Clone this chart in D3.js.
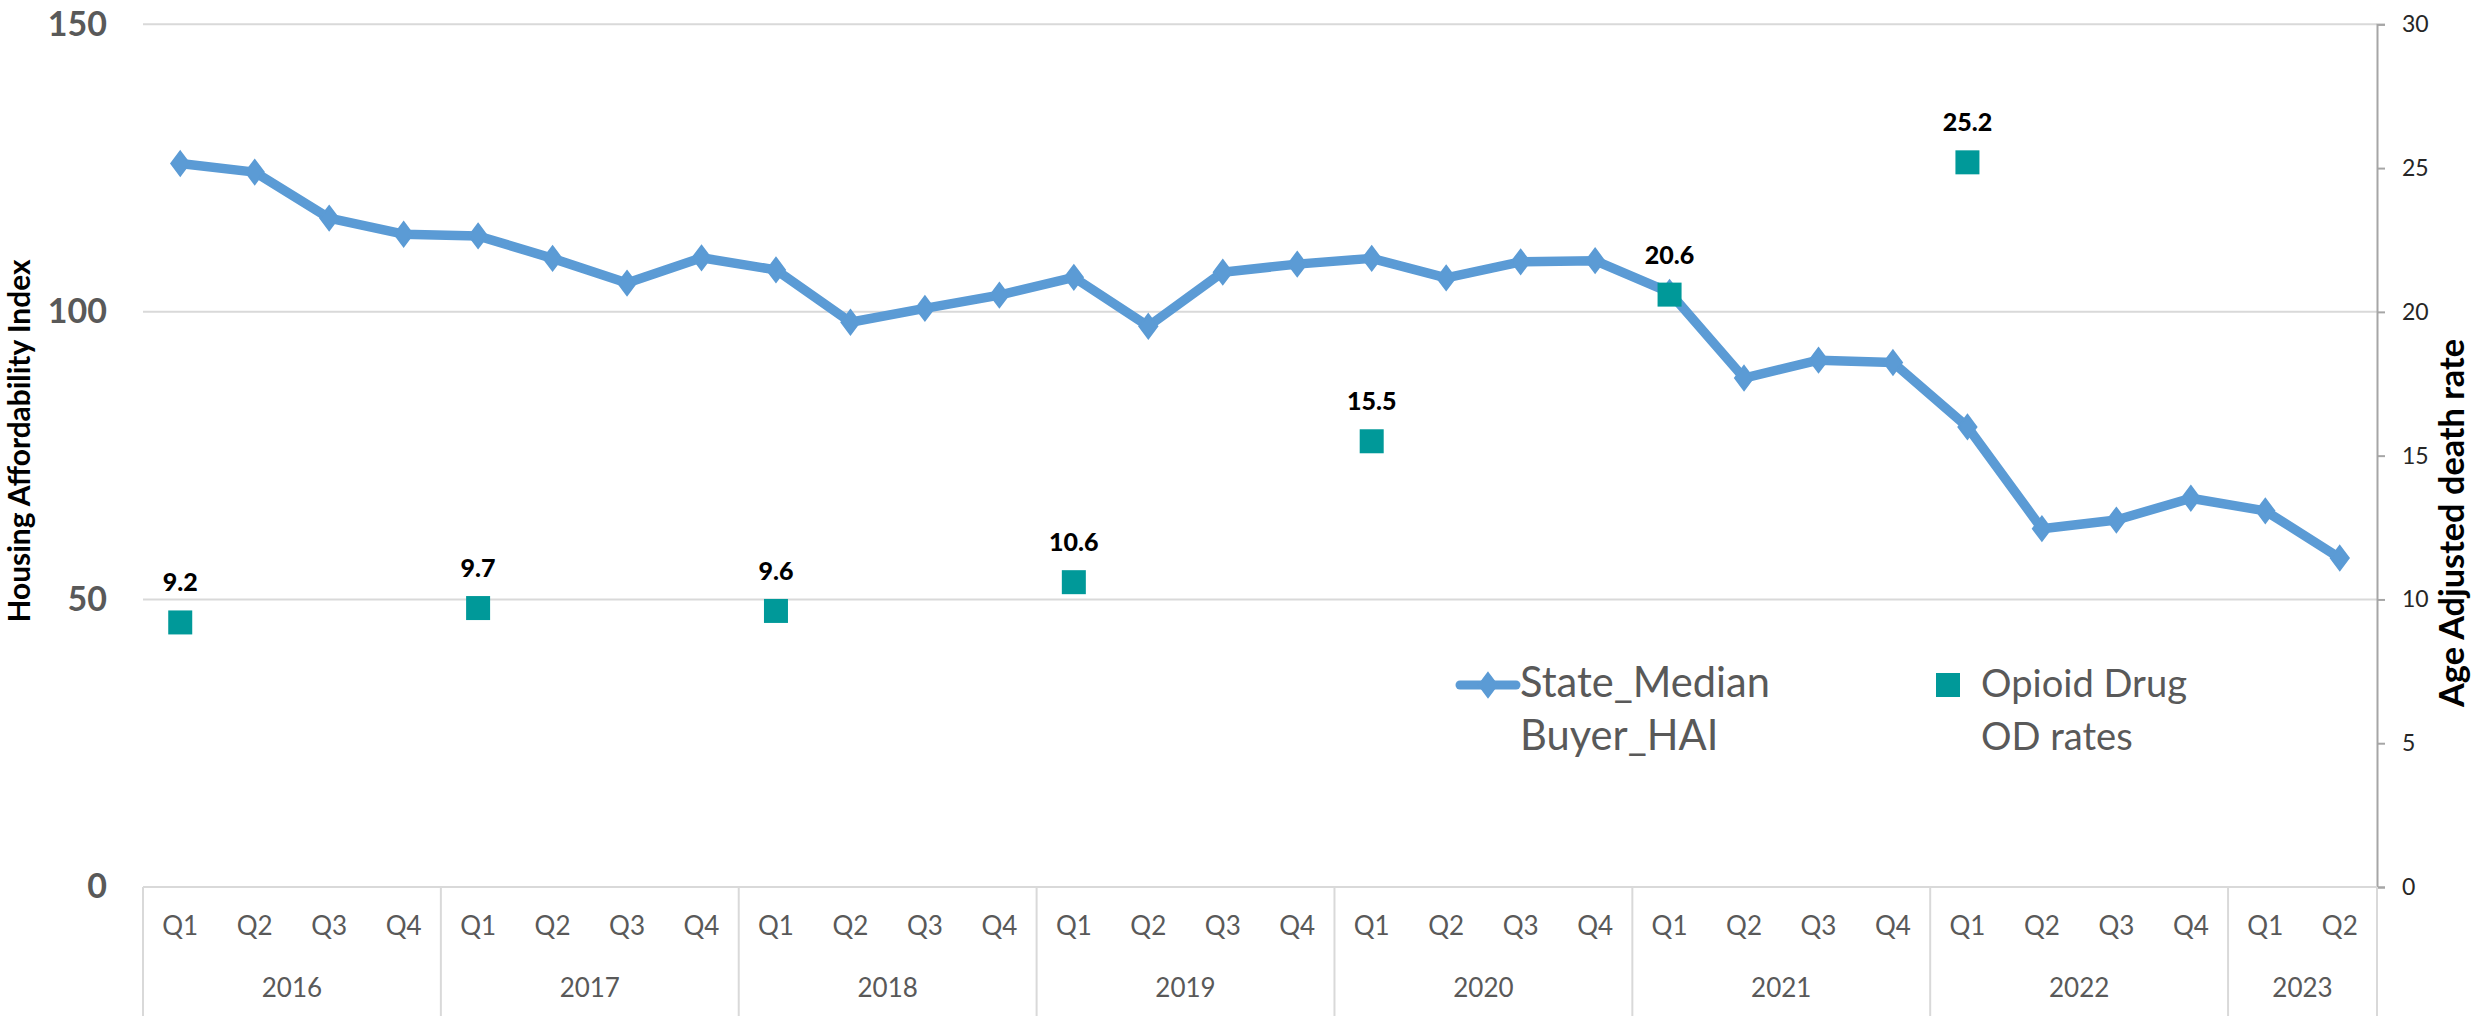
<!DOCTYPE html>
<html>
<head>
<meta charset="utf-8">
<script src="https://cdn.jsdelivr.net/npm/d3@7"></script>
<style>
  html, body { margin: 0; padding: 0; background: #fff; }
  svg { display: block; font-family: Lato, "Open Sans", sans-serif; }
</style>
</head>
<body>
<svg id="chart" width="2471" height="1016"></svg>
<script>
// ---------- data ----------
const years = ["2016","2017","2018","2019","2020","2021","2022","2023"];
const quarters = ["Q1","Q2","Q3","Q4"];
const periods = [
  "2016 Q1","2016 Q2","2016 Q3","2016 Q4",
  "2017 Q1","2017 Q2","2017 Q3","2017 Q4",
  "2018 Q1","2018 Q2","2018 Q3","2018 Q4",
  "2019 Q1","2019 Q2","2019 Q3","2019 Q4",
  "2020 Q1","2020 Q2","2020 Q3","2020 Q4",
  "2021 Q1","2021 Q2","2021 Q3","2021 Q4",
  "2022 Q1","2022 Q2","2022 Q3","2022 Q4",
  "2023 Q1","2023 Q2"
];
const haiValues = [
  125.8,124.3,116.3,113.5,
  113.2,109.3,105.0,109.4,
  107.3,98.2,100.6,102.9,
  106.0,97.5,106.9,108.3,
  109.3,105.9,108.7,108.9,
  103.4,88.5,91.6,91.2,
  80.0,62.3,63.8,67.6,
  65.4,57.2
];
const odPeriods = ["2016 Q1","2017 Q1","2018 Q1","2019 Q1","2020 Q1","2021 Q1","2022 Q1"];
const odValues = [9.2, 9.7, 9.6, 10.6, 15.5, 20.6, 25.2];
const leftTicks = [0, 50, 100, 150];
const rightTicks = [0, 5, 10, 15, 20, 25, 30];
const leftTitle = "Housing Affordability Index";
const rightTitle = "Age Adjusted death rate";
const legendLine = ["State_Median", "Buyer_HAI"];
const legendSquare = ["Opioid Drug", "OD rates"];

// ---------- layout ----------
const W = 2471, H = 1016;
const plot = { left: 143, right: 2377, top: 24.3, bottom: 887 };
const grey = "#595959", gridC = "#d9d9d9", lineC = "#5B9BD5", sqC = "#009999";

const svg = d3.select("#chart");

const x = d3.scaleBand().domain(periods).range([plot.left, plot.right]).padding(0);
const yL = d3.scaleLinear().domain([0, 150]).range([plot.bottom, plot.top]);
const yR = d3.scaleLinear().domain([0, 30]).range([plot.bottom, plot.top]);
const cx = p => x(p) + x.bandwidth() / 2;

function fitFont(sel, target, base) {
  sel.style("font-size", base + "px");
  const w = sel.node().getComputedTextLength();
  sel.style("font-size", (base * target / w).toFixed(2) + "px");
}

// gridlines
svg.append("g").selectAll("line").data(leftTicks).join("line")
  .attr("x1", plot.left).attr("x2", plot.right)
  .attr("y1", d => yL(d)).attr("y2", d => yL(d))
  .attr("stroke", gridC).attr("stroke-width", 2);

// left axis (labels only)
const gL = svg.append("g").attr("transform", `translate(${plot.left},0)`)
  .call(d3.axisLeft(yL).tickValues(leftTicks).tickSize(0).tickPadding(36));
gL.select(".domain").remove();
gL.selectAll("text").attr("fill", grey).attr("font-weight", "bold")
  .style("font-family", "Lato, sans-serif").style("font-size", "34px");

// right axis
const gR = svg.append("g").attr("transform", `translate(${plot.right},0)`)
  .call(d3.axisRight(yR).tickValues(rightTicks).tickSize(8).tickPadding(17));
gR.select(".domain").attr("stroke", "#a6a6a6").attr("stroke-width", 2);
gR.selectAll(".tick line").attr("stroke", "#a6a6a6").attr("stroke-width", 2);
gR.selectAll("text").attr("fill", "#262626")
  .style("font-family", "Lato, sans-serif").style("font-size", "23px");

// bottom category axis: quarters
const gB = svg.append("g").attr("transform", `translate(0,${plot.bottom})`)
  .call(d3.axisBottom(x).tickSize(0).tickPadding(0).tickFormat(d => d.split(" ")[1]));
gB.select(".domain").remove();
gB.selectAll("text").attr("fill", grey).attr("dy", null).attr("y", 48)
  .style("font-family", "Lato, sans-serif").style("font-size", "26px");

// year groups
const yearGroups = years.map(yr => {
  const ps = periods.filter(p => p.startsWith(yr));
  return { yr, x0: x(ps[0]), x1: x(ps[ps.length - 1]) + x.bandwidth() };
});
svg.append("g").selectAll("text").data(yearGroups).join("text")
  .attr("x", d => (d.x0 + d.x1) / 2).attr("y", 997)
  .attr("text-anchor", "middle").attr("fill", grey)
  .style("font-size", "26px").text(d => d.yr);
const seps = [plot.left].concat(yearGroups.map(d => d.x1));
svg.append("g").selectAll("line").data(seps).join("line")
  .attr("x1", d => d).attr("x2", d => d).attr("y1", plot.bottom).attr("y2", H)
  .attr("stroke", gridC).attr("stroke-width", 2);
// axis baseline
svg.append("line").attr("x1", plot.left).attr("x2", plot.right)
  .attr("y1", plot.bottom).attr("y2", plot.bottom)
  .attr("stroke", gridC).attr("stroke-width", 2);

// HAI line
const lineData = periods.map((p, i) => ({ p, v: haiValues[i] }));
svg.append("path").datum(lineData)
  .attr("d", d3.line().x(d => cx(d.p)).y(d => yL(d.v)))
  .attr("fill", "none").attr("stroke", lineC).attr("stroke-width", 9.5)
  .attr("stroke-linejoin", "round").attr("stroke-linecap", "round");
const diamond = "M0,-12L9,0L0,12L-9,0Z";
svg.append("g").selectAll("path").data(lineData).join("path")
  .attr("transform", d => `translate(${cx(d.p)},${yL(d.v)})`)
  .attr("d", diamond).attr("fill", lineC).attr("stroke", lineC).attr("stroke-width", 2);

// opioid squares + labels
const odData = odPeriods.map((p, i) => ({ p, v: odValues[i] }));
svg.append("g").selectAll("rect").data(odData).join("rect")
  .attr("x", d => cx(d.p) - 12).attr("y", d => yR(d.v) - 12)
  .attr("width", 24).attr("height", 24).attr("fill", sqC);
svg.append("g").selectAll("text").data(odData).join("text")
  .attr("x", d => cx(d.p)).attr("y", d => yR(d.v) - 31)
  .attr("text-anchor", "middle").attr("font-weight", "900").attr("fill", "#000")
  .style("font-size", "25px").text(d => d.v.toFixed(1));

// axis titles
const tL = svg.append("text")
  .attr("transform", `translate(30,441) rotate(-90)`)
  .attr("text-anchor", "middle").attr("font-weight", "bold").attr("fill", "#000")
  .text(leftTitle);
fitFont(tL, 363, 28);
const tR = svg.append("text")
  .attr("transform", `translate(2464,523) rotate(-90)`)
  .attr("text-anchor", "middle").attr("font-weight", "bold").attr("fill", "#000")
  .text(rightTitle);
fitFont(tR, 368, 28);

// legend
const lg = svg.append("g");
lg.append("line").attr("x1", 1460).attr("x2", 1516).attr("y1", 685).attr("y2", 685)
  .attr("stroke", lineC).attr("stroke-width", 9).attr("stroke-linecap", "round");
lg.append("path").attr("transform", "translate(1488,685)").attr("d", diamond)
  .attr("fill", lineC).attr("stroke", lineC).attr("stroke-width", 2);
const lt1 = lg.append("text").attr("x", 1520).attr("y", 697).attr("fill", grey).text(legendLine[0]);
fitFont(lt1, 250, 38);
lg.append("text").attr("x", 1520).attr("y", 750).attr("fill", grey)
  .style("font-size", lt1.style("font-size")).text(legendLine[1]);
lg.append("rect").attr("x", 1936).attr("y", 673).attr("width", 24).attr("height", 24).attr("fill", sqC);
const lt2 = lg.append("text").attr("x", 1981).attr("y", 697).attr("fill", grey).text(legendSquare[0]);
fitFont(lt2, 206, 38);
lg.append("text").attr("x", 1981).attr("y", 750).attr("fill", grey)
  .style("font-size", lt2.style("font-size")).text(legendSquare[1]);
</script>
</body>
</html>
